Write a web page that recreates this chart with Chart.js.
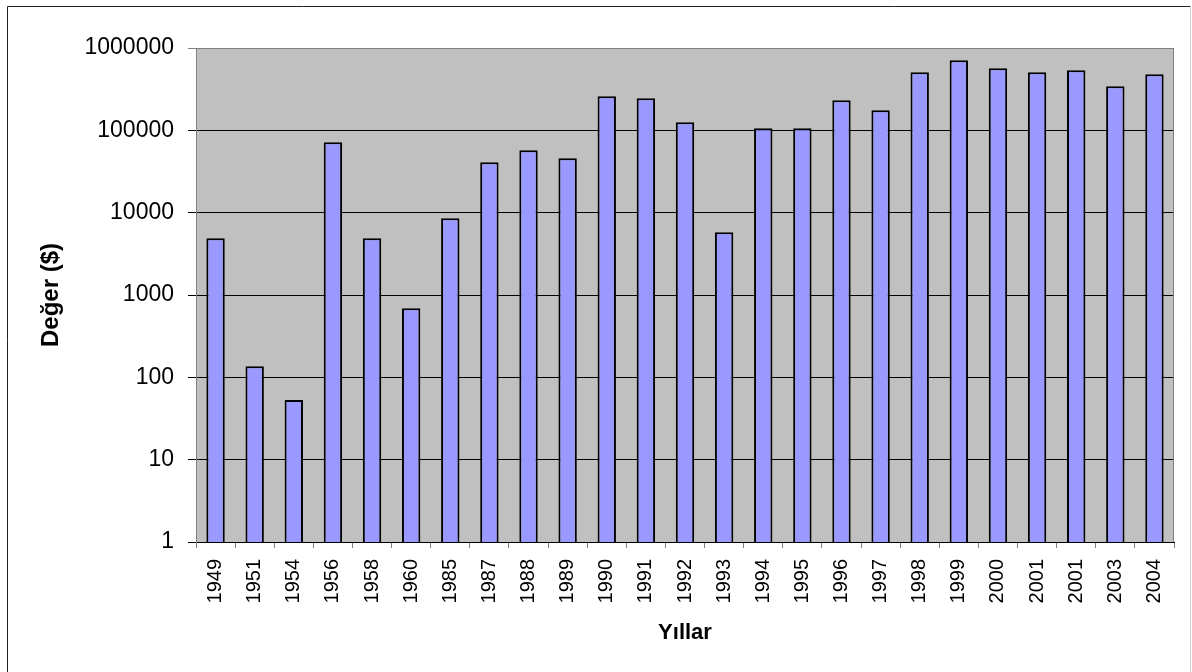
<!DOCTYPE html>
<html>
<head>
<meta charset="utf-8">
<script src="https://cdn.jsdelivr.net/npm/chart.js@4/dist/chart.umd.min.js"></script>
<style>
  html, body { margin: 0; padding: 0; background: #fff; }
  #wrap { width: 1192px; height: 672px; position: relative; }
</style>
</head>
<body>
<div id="wrap"><canvas id="grafik" width="1192" height="672"></canvas></div>
<script>
// Yıllar ve değerler (grafikten okunan yaklaşık değerler)
const yillar = ['1949', '1951', '1954', '1956', '1958', '1960', '1985', '1987', '1988', '1989',
    '1990', '1991', '1992', '1993', '1994', '1995', '1996', '1997', '1998', '1999',
    '2000', '2001', '2001', '2003', '2004'];
const degerler = [4900, 136, 53, 71600, 4900, 690, 8550, 40900, 57300, 45700,
    259000, 245000, 125000, 5780, 106000, 106000, 232000, 175000, 507000, 709000,
    567000, 507000, 536000, 343000, 480000];
const yEtiketleri = [1, 10, 100, 1000, 10000, 100000, 1000000];

const FONT = '"Liberation Sans", Arial, sans-serif';

// Arka plan, çizim alanı rengi ve dış çerçeve
const arkaPlan = {
    id: 'arkaPlan',
    beforeDraw(chart) {
        const { ctx, chartArea: a } = chart;
        ctx.save();
        ctx.fillStyle = '#fff';
        ctx.fillRect(0, 0, chart.width, chart.height);
        ctx.fillStyle = '#c0c0c0';
        ctx.fillRect(a.left, a.top, a.right - a.left, a.bottom - a.top);
        ctx.strokeStyle = '#222';
        ctx.lineWidth = 1;
        ctx.beginPath();
        ctx.moveTo(1190.5, 6.5);
        ctx.lineTo(7.5, 6.5);
        ctx.lineTo(7.5, 672);
        ctx.stroke();
        ctx.strokeStyle = '#d0d0d0';
        ctx.beginPath();
        ctx.moveTo(1190.5, 6.5);
        ctx.lineTo(1190.5, 672);
        ctx.stroke();
        ctx.restore();
    },
    afterDatasetsDraw(chart) {
        const { ctx, chartArea: a } = chart;
        ctx.save();
        ctx.strokeStyle = '#808080';
        ctx.lineWidth = 1;
        ctx.beginPath();
        ctx.moveTo(a.left + 0.5, a.bottom);
        ctx.lineTo(a.left + 0.5, a.top + 0.5);
        ctx.lineTo(a.right - 0.5, a.top + 0.5);
        ctx.lineTo(a.right - 0.5, a.bottom);
        ctx.stroke();
        ctx.restore();
    }
};

new Chart(document.getElementById('grafik'), {
    type: 'bar',
    data: {
        labels: yillar,
        datasets: [{
            data: degerler,
            backgroundColor: '#9999ff',
            borderColor: '#000',
            borderWidth: 2,
            borderSkipped: 'start',
            barPercentage: 0.47,
            categoryPercentage: 1
        }]
    },
    options: {
        responsive: false,
        animation: false,
        layout: { padding: { top: 48, right: 18, left: 0, bottom: 0 } },
        plugins: { legend: { display: false }, tooltip: { enabled: false } },
        scales: {
            x: {
                offset: true,
                afterFit: s => { s.height = 130; },
                grid: { display: true, drawOnChartArea: false, offset: true, color: '#808080', tickLength: 6 },
                border: { display: true, color: '#000', width: 1 },
                ticks: {
                    color: '#000', padding: 11, minRotation: 90, maxRotation: 90, autoSkip: false,
                    font: { family: FONT, size: 20 }
                },
                title: {
                    display: true, text: 'Yıllar', color: '#000', padding: { top: 0, bottom: 26 },
                    font: { family: FONT, size: 22, weight: 'bold' }
                }
            },
            y: {
                type: 'logarithmic',
                min: 1,
                max: 1000000,
                afterFit: s => { s.width = 196; },
                afterBuildTicks: s => { s.ticks = yEtiketleri.map(v => ({ value: v })); },
                grid: {
                    color: c => (c.tick && c.tick.value === 1000000) ? '#808080' : '#000',
                    tickLength: 8, lineWidth: 1
                },
                border: { display: true, color: '#808080', width: 1 },
                ticks: {
                    color: '#000', padding: 14, autoSkip: false,
                    font: { family: FONT, size: 23 },
                    callback: v => String(v)
                },
                title: {
                    display: true, text: 'Değer ($)', color: '#000', padding: { top: 37, bottom: 0 },
                    font: { family: FONT, size: 24, weight: 'bold' }
                }
            }
        }
    },
    plugins: [arkaPlan]
});
</script>
</body>
</html>
